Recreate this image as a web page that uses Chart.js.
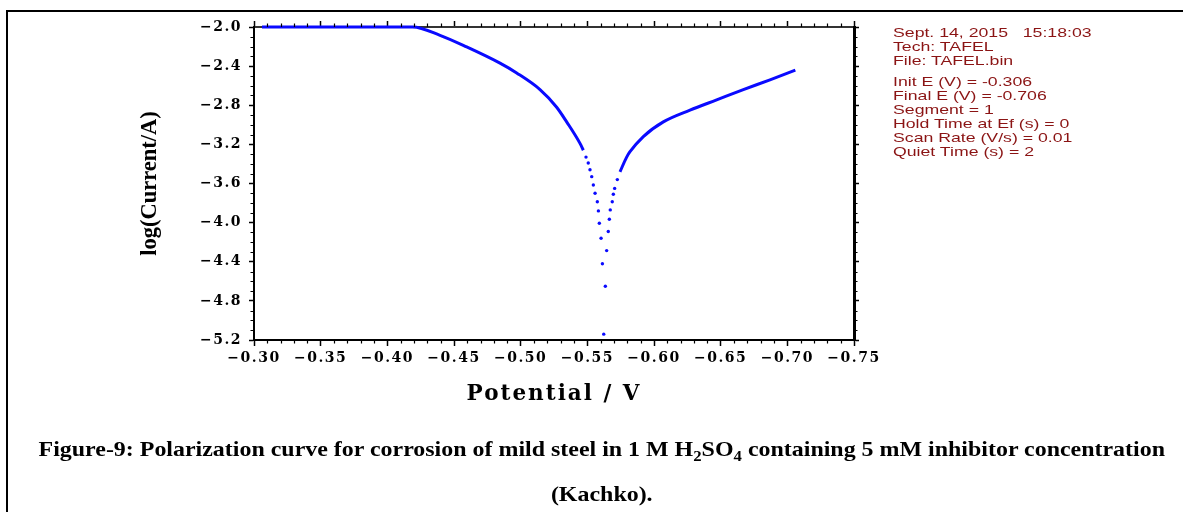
<!DOCTYPE html>
<html>
<head>
<meta charset="utf-8">
<script src="https://cdn.jsdelivr.net/npm/chart.js@4.4.1/dist/chart.umd.min.js"></script>
<style>
html,body{margin:0;padding:0;background:#fff;}
#wrap{position:relative;width:1183px;height:512px;overflow:hidden;background:#fff;}
#c{position:absolute;left:0;top:0;}
.frameTop{position:absolute;left:6px;top:10px;width:1177px;height:2px;background:#000;}
.frameLeft{position:absolute;left:6px;top:10px;width:2px;height:502px;background:#000;}
.info{position:absolute;left:893px;font-family:'Liberation Sans',Arial,sans-serif;font-size:13px;color:#8b1414;line-height:14px;white-space:pre;transform:scaleX(1.36);transform-origin:0 0;}
.cap{position:absolute;left:10px;width:1183px;text-align:center;font-family:'Liberation Serif','Times New Roman',serif;font-weight:bold;font-size:22px;line-height:24px;white-space:nowrap;color:#000;}
.cap span{display:inline-block;transform-origin:50% 50%;}
sub{font-size:70%;line-height:0;}
</style>
</head>
<body>
<div id="wrap">
  <canvas id="c" width="1183" height="512"></canvas>
  <div class="frameTop"></div>
  <div class="frameLeft"></div>
  <div class="info" style="top:26px;">Sept. 14, 2015   15:18:03
Tech: TAFEL
File: TAFEL.bin</div>
  <div class="info" style="top:75px;">Init E (V) = -0.306
Final E (V) = -0.706
Segment = 1
Hold Time at Ef (s) = 0
Scan Rate (V/s) = 0.01
Quiet Time (s) = 2</div>
  <div class="cap" style="top:437px;"><span id="cap1">Figure-9: Polarization curve for corrosion of mild steel in 1 M H<sub>2</sub>SO<sub>4</sub> containing 5 mM inhibitor concentration</span></div>
  <div class="cap" style="top:482px;"><span id="cap2">(Kachko).</span></div>
</div>
<script>
// ---- data ----
// potential E (V) and log(Current/A)
const leftE   = [-0.306, -0.33, -0.36, -0.39, -0.419, -0.4395, -0.4595, -0.4845, -0.497, -0.5145, -0.527, -0.5345, -0.5445, -0.547];
const leftLog = [-2.0, -2.0, -2.0, -2.0, -2.0, -2.085, -2.204, -2.37, -2.47, -2.64, -2.82, -2.97, -3.19, -3.26];

const dotE   = [-0.549, -0.5507, -0.552, -0.5533, -0.5545, -0.5558, -0.5575, -0.5583, -0.559, -0.5603, -0.5613, -0.5623, -0.5635, -0.5645, -0.5657, -0.5665, -0.5672, -0.5687, -0.5695, -0.5705, -0.5725];
const dotLog = [-3.33, -3.39, -3.46, -3.53, -3.615, -3.70, -3.786, -3.88, -4.006, -4.16, -4.42, -5.14, -4.65, -4.286, -4.09, -3.966, -3.87, -3.786, -3.71, -3.65, -3.56];

const rightE   = [-0.5745, -0.5795, -0.582, -0.592, -0.607, -0.627, -0.647, -0.667, -0.687, -0.706];
const rightLog = [-3.48, -3.33, -3.275, -3.12, -2.97, -2.85, -2.745, -2.64, -2.54, -2.44];

const xMin = -0.75, xMax = -0.30, xStep = 0.05, xMinorStep = 0.01;
const yMin = -5.2, yMax = -2.0, yStep = 0.4, yMinorStep = 0.1;

const toPts = (xs, ys) => xs.map((x, i) => ({x: x, y: ys[i]}));
const fmt = d => v => (v < 0 ? '\u2212' : '') + Math.abs(v).toFixed(d);

const blue = '#0a0aff';
const tickFont = {family: 'DejaVu Serif', weight: 'bold', size: 14};

// letter spacing for selected texts (drawn by the library's own scale code)
const spacing = {
  id: 'spacing',
  afterLayout(chart) {
    const wrap = (scale, fn, sp) => {
      const orig = Object.getPrototypeOf(scale)[fn];
      scale[fn] = function () {
        const ctx = this.ctx;
        const prev = ctx.letterSpacing;
        ctx.letterSpacing = sp;
        orig.apply(this, arguments);
        ctx.letterSpacing = prev;
      };
    };
    wrap(chart.scales.x, 'drawTitle', '2px');
    wrap(chart.scales.x, 'drawLabels', '1.5px');
    wrap(chart.scales.y, 'drawLabels', '1.5px');
  }
};

const minorTicks = {
  id: 'minorTicks',
  afterDraw(chart) {
    const {ctx, chartArea: a, scales: {x, y}} = chart;
    ctx.save();
    ctx.strokeStyle = '#000';
    ctx.lineWidth = 1.2;
    ctx.beginPath();
    const nx = Math.round((xMax - xMin) / xMinorStep);
    for (let i = 0; i <= nx; i++) {
      if (i % 5 === 0) continue;
      const px = Math.round(x.getPixelForValue(xMin + i * xMinorStep)) + 0.5;
      ctx.moveTo(px, a.bottom); ctx.lineTo(px, a.bottom + 3.5);
      ctx.moveTo(px, a.top); ctx.lineTo(px, a.top - 3.5);
    }
    const ny = Math.round((yMax - yMin) / yMinorStep);
    for (let i = 0; i <= ny; i++) {
      if (i % 4 === 0) continue;
      const py = Math.round(y.getPixelForValue(yMin + i * yMinorStep)) + 0.5;
      ctx.moveTo(a.left, py); ctx.lineTo(a.left - 3.5, py);
      ctx.moveTo(a.right, py); ctx.lineTo(a.right + 3.5, py);
    }
    ctx.stroke();
    ctx.restore();
  }
};

const gridCommon = {drawOnChartArea: false, drawTicks: true, tickLength: 6, tickColor: '#000', tickWidth: 1.5};

new Chart(document.getElementById('c'), {
  type: 'scatter',
  data: {
    datasets: [
      {data: toPts(leftE, leftLog), showLine: true, borderColor: blue, borderWidth: 3, pointRadius: 0, cubicInterpolationMode: 'monotone', clip: false},
      {data: toPts(dotE, dotLog), showLine: false, backgroundColor: blue, borderColor: blue, pointRadius: 1.7, borderWidth: 0, clip: false},
      {data: toPts(rightE, rightLog), showLine: true, borderColor: blue, borderWidth: 3, pointRadius: 0, cubicInterpolationMode: 'monotone', clip: false}
    ]
  },
  options: {
    responsive: false,
    animation: false,
    devicePixelRatio: 1,
    layout: {padding: {left: 132.5, right: 321, top: 20, bottom: 100.6}},
    plugins: {legend: {display: false}, tooltip: {enabled: false}},
    scales: {
      x: {
        type: 'linear', position: 'bottom', reverse: true, min: xMin, max: xMax,
        afterFit: s => { s.height = 71.4; },
        ticks: {stepSize: xStep, callback: fmt(2), font: tickFont, color: '#000', padding: 4, maxRotation: 0, autoSkip: false},
        grid: gridCommon,
        border: {display: true, color: '#000', width: 2},
        title: {display: true, text: 'Potential / V', color: '#000', font: {family: 'DejaVu Serif', weight: 'bold', size: 21.5}, padding: {top: 4, bottom: 4}}
      },
      x2: {
        type: 'linear', position: 'top', reverse: true, min: xMin, max: xMax,
        afterFit: s => { s.height = 7; },
        ticks: {display: false, stepSize: xStep},
        grid: gridCommon,
        border: {display: true, color: '#333', width: 2}
      },
      y: {
        type: 'linear', position: 'left', min: yMin, max: yMax,
        afterFit: s => { s.width = 121.5; },
        ticks: {stepSize: yStep, callback: fmt(1), font: tickFont, color: '#000', padding: 7},
        grid: Object.assign({}, gridCommon, {tickLength: 5}),
        border: {display: true, color: '#000', width: 2},
        title: {display: true, text: 'log(Current/A)', color: '#000', font: {family: 'Liberation Serif', weight: 'bold', size: 22.5}, padding: {top: 4, bottom: 4}}
      },
      y2: {
        type: 'linear', position: 'right', min: yMin, max: yMax,
        afterFit: s => { s.width = 8; },
        ticks: {display: false, stepSize: yStep},
        grid: Object.assign({}, gridCommon, {tickLength: 5}),
        border: {display: true, color: '#000', width: 3}
      }
    }
  },
  plugins: [spacing, minorTicks]
});

function fitCaption() {
  const s1 = document.getElementById('cap1');
  const s2 = document.getElementById('cap2');
  const w = s1.offsetWidth;  // untransformed layout width
  const k = 1127 / w;
  s1.style.transform = 'scaleX(' + k + ')';
  s2.style.transform = 'scaleX(' + k + ')';
}
fitCaption();
if (document.fonts && document.fonts.ready) { document.fonts.ready.then(fitCaption); }
</script>
</body>
</html>
